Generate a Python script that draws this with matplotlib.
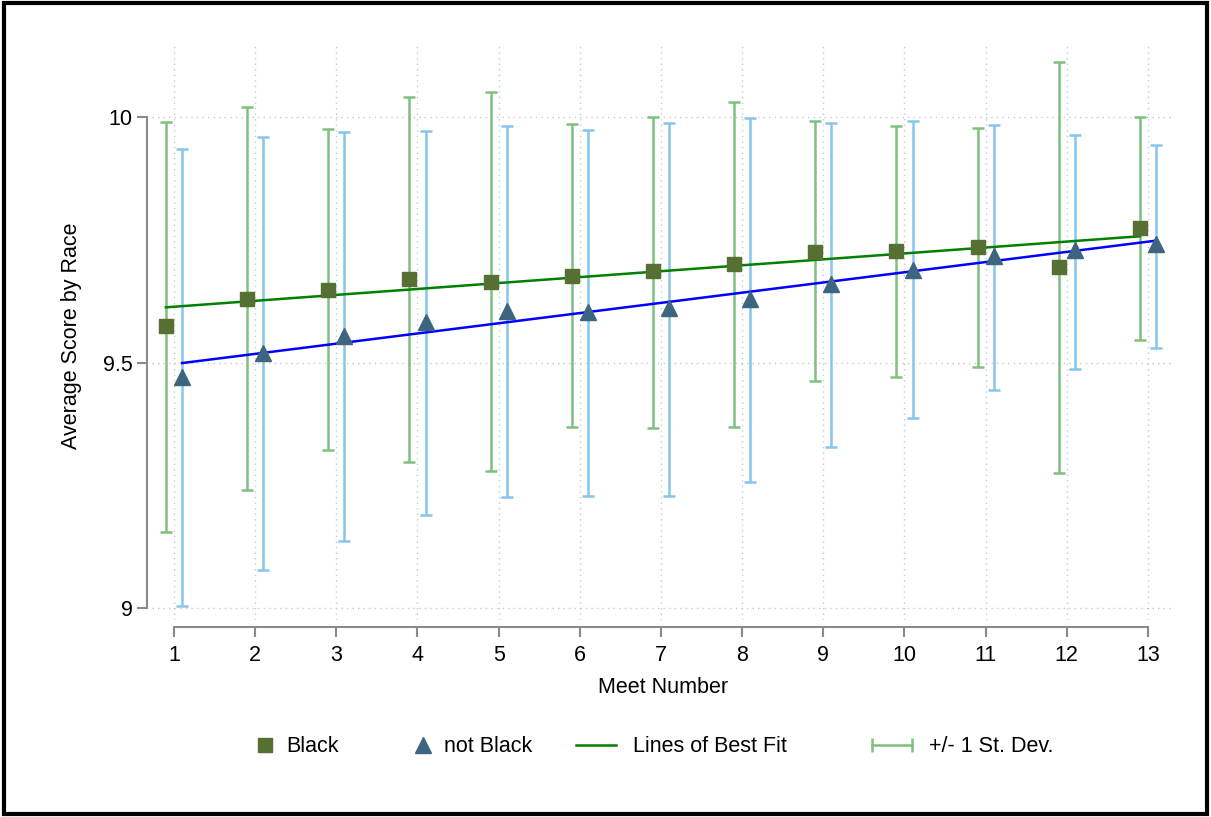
import numpy as np
import matplotlib.pyplot as plt
from matplotlib.lines import Line2D
from matplotlib.legend_handler import HandlerLine2D
from matplotlib.patches import Rectangle

plt.rcParams['font.family'] = ['Liberation Sans', 'DejaVu Sans']

meet = np.arange(1, 14)

# mean scores
black_mean = [9.574, 9.629, 9.648, 9.670, 9.664, 9.676, 9.686,
              9.701, 9.725, 9.727, 9.735, 9.695, 9.774]
other_mean = [9.470, 9.519, 9.554, 9.582, 9.605, 9.603, 9.611,
              9.629, 9.660, 9.688, 9.717, 9.729, 9.741]

# +/- 1 sd bounds
black_hi = [9.990, 10.020, 9.976, 10.041, 10.051, 9.986, 10.000,
            10.031, 9.992, 9.982, 9.978, 10.112, 10.000]
black_lo = [9.155, 9.240, 9.322, 9.297, 9.279, 9.369, 9.367,
            9.369, 9.462, 9.470, 9.491, 9.275, 9.546]
other_hi = [9.935, 9.959, 9.969, 9.971, 9.982, 9.974, 9.988,
            9.998, 9.988, 9.992, 9.984, 9.963, 9.943]
other_lo = [9.004, 9.077, 9.136, 9.189, 9.226, 9.228, 9.228,
            9.257, 9.328, 9.387, 9.444, 9.487, 9.530]

FS = 15.5
fig = plt.figure(figsize=(12.11, 8.17), dpi=100)
ax = fig.add_axes([152 / 1211, 1 - 620 / 817, 1023 / 1211, 577 / 817])

xb = meet - 0.1
xo = meet + 0.1
bm = np.array(black_mean); om = np.array(other_mean)

green_bar = '#7fc07f'
blue_bar = '#88c4ec'

ax.errorbar(xb, bm, yerr=[bm - np.array(black_lo), np.array(black_hi) - bm],
            fmt='none', ecolor=green_bar, elinewidth=1.8, capsize=4.3, capthick=1.8, zorder=2)
ax.errorbar(xo, om, yerr=[om - np.array(other_lo), np.array(other_hi) - om],
            fmt='none', ecolor=blue_bar, elinewidth=1.8, capsize=4.3, capthick=1.8, zorder=2)

# lines of best fit
pb = np.polyfit(xb, bm, 1)
po = np.polyfit(xo, om, 1)
ax.plot(xb, np.polyval(pb, xb), color='#008000', lw=1.8, zorder=3)
ax.plot(xo, np.polyval(po, xo), color='#0000ff', lw=1.8, zorder=3)

ax.plot(xb, bm, 's', color='#557032', ms=10, mec='#557032', zorder=4)
ax.plot(xo, om, '^', color='#3d6580', ms=11, mec='#3d6580', zorder=4)

ax.set_xlim(0.729, 13.333)
ax.set_ylim(8.9756, 10.151)
ax.set_xticks(meet)
ax.set_yticks([9, 9.5, 10])
ax.set_yticklabels(['9', '9.5', '10'])
ax.grid(True, color='#c8c8c8', linestyle=(0, (1, 3)), lw=1)
ax.set_axisbelow(True)

for s in ['top', 'right']:
    ax.spines[s].set_visible(False)
ax.spines['left'].set_bounds(9, 10)
ax.spines['bottom'].set_bounds(1, 13)
ax.spines['left'].set_position(('outward', 3.5))
ax.spines['bottom'].set_position(('outward', 5))
for s in ['left', 'bottom']:
    ax.spines[s].set_color('#8a8a8a')
    ax.spines[s].set_linewidth(1.5)
ax.tick_params(colors='#8a8a8a', width=1.5, length=7, labelsize=FS, labelcolor='black')
ax.tick_params(axis='x', pad=6)

ax.set_xlabel('Meet Number', fontsize=FS, labelpad=8)
ax.set_ylabel('Average Score by Race', fontsize=FS)
ax.yaxis.set_label_coords(-0.0684, 0.492)

# legend
handles = [
    Line2D([], [], marker='s', ls='none', color='#557032', ms=10),
    Line2D([], [], marker='^', ls='none', color='#3d6580', ms=11),
    Line2D([], [], color='#008000', lw=1.8),
    Line2D([], [], color=green_bar, lw=1.8, marker='|', ms=10, mew=1.8),
]
labels = ['Black', 'not Black', 'Lines of Best Fit', '+/- 1 St. Dev.']
lefts = [257, 415, 576, 872]
hlen = [0.7, 0.7, 1.86, 1.86]
hpad = [0.65, 0.65, 0.8, 0.8]
for h, lab, x0, hl, hp in zip(handles, labels, lefts, hlen, hpad):
    hm = {h: HandlerLine2D(numpoints=2, marker_pad=0)} if lab.startswith('+') else None
    fig.legend([h], [lab], loc='center left', bbox_to_anchor=(x0 / 1211, 1 - 747 / 817),
               frameon=False, fontsize=FS, borderpad=0, borderaxespad=0,
               handlelength=hl, handletextpad=hp, handler_map=hm)

fig.patches.append(Rectangle((0.003, 0.004), 0.994, 0.992, transform=fig.transFigure,
                             fill=False, edgecolor='black', lw=3))

fig.savefig('out.png', dpi=100)
